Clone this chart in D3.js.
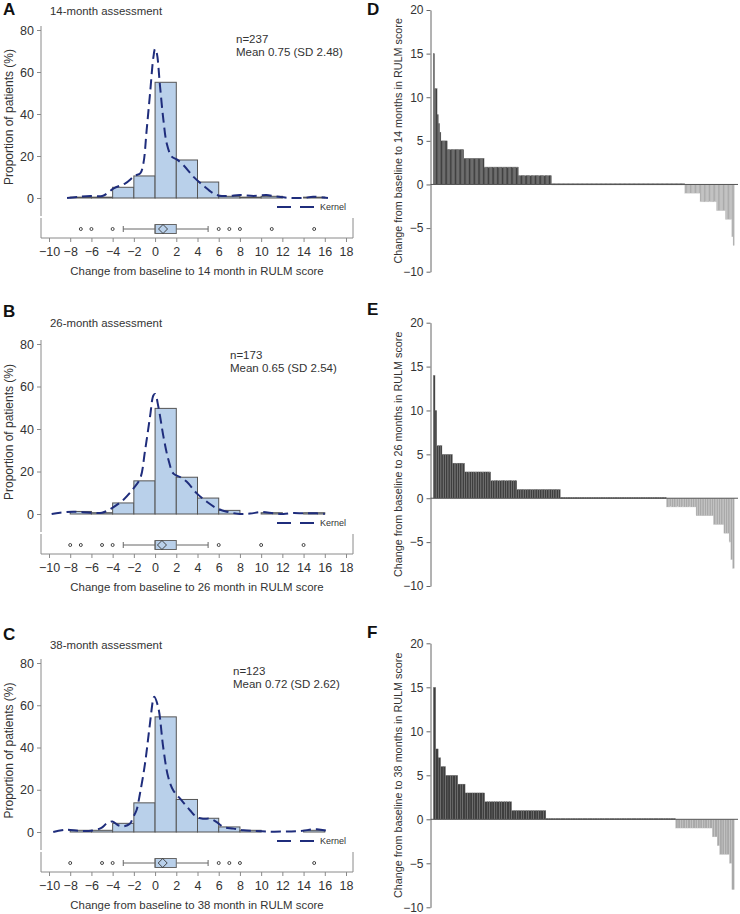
<!DOCTYPE html>
<html>
<head>
<meta charset="utf-8">
<script src="https://cdn.jsdelivr.net/npm/d3@7/dist/d3.min.js"></script>
<style>
  html, body { margin: 0; padding: 0; background: #fff; }
  svg { display: block; font-family: "Liberation Sans", Arial, sans-serif; }
</style>
</head>
<body>
<svg id="chart" width="740" height="914"></svg>
<script>
// ---------------- DATA ----------------
const histBinStarts = [-10, -8, -6, -4, -2, 0, 2, 4, 6, 8, 10, 12, 14, 16];
const histBinWidth = 2;
const xTicks = [-10, -8, -6, -4, -2, 0, 2, 4, 6, 8, 10, 12, 14, 16, 18];
const yTicksHist = [0, 20, 40, 60, 80];
const yTicksWaterfall = [-10, -5, 0, 5, 10, 15, 20];

// Histogram percentages (% of patients per 2-point bin)
const hist14 = [0, 0.4, 0.4, 5.1, 10.5, 55.1, 18.1, 7.6, 0.8, 0.4, 0.8, 0, 0.4, 0];
const hist26 = [0, 1.2, 0.6, 5.2, 15.6, 49.7, 17.3, 7.5, 1.7, 0, 0.6, 0, 0.6, 0];
const hist38 = [0, 0.8, 0.8, 4.1, 13.8, 54.5, 15.4, 6.5, 2.4, 0.8, 0, 0, 0.8, 0];

// Kernel density curves (x = change, y = %)
const kernel14X = [-8.3, -7.2, -6.1, -4.9, -3.9, -2.8, -1.9, -1.4, -1.1, -0.8, -0.47, -0.16, 0, 0.16, 0.47, 0.79, 1.1, 1.57, 2.04, 2.67, 3.6, 4.56, 5.5, 6.1, 7.0, 8.0, 9.3, 10.5, 11.2, 12.1, 13.0, 14.0, 14.9, 15.9, 16.3];
const kernel14Y = [0, 0.6, 1.0, 1.1, 4.6, 7.0, 10.6, 11.7, 16.5, 32, 50, 67, 71, 69, 53, 37, 26, 19.7, 18.4, 15.7, 10.2, 5.9, 2.2, 1.1, 1.0, 1.4, 1.0, 1.4, 0.9, 0.3, 0, 0, 0.6, 0.2, 0];
const kernel26X = [-9.75, -8.96, -7.7, -6.1, -5.0, -4.1, -3.0, -2.04, -1.4, -0.94, -0.47, -0.16, 0, 0.31, 0.79, 1.26, 1.73, 2.36, 2.99, 3.93, 4.87, 5.82, 6.76, 8.0, 8.96, 10.06, 11.16, 12.1, 13.05, 14.0, 15.25, 16.0];
const kernel26Y = [0, 0.6, 1.1, 0.6, 0.6, 2.7, 6.6, 12, 16.8, 30, 46, 55.8, 56.5, 50.5, 36.4, 25.5, 19, 17.4, 15.2, 9.7, 5.8, 2.7, 1.1, 0, 0.2, 0.9, 0.3, 0, 0.5, 0.3, 0.3, 0];
const kernel38X = [-9.6, -8.4, -7.1, -5.8, -5.06, -4.58, -4.02, -3.48, -3.0, -2.38, -2.06, -1.75, -1.43, -0.96, -0.49, -0.17, -0.08, 0.3, 0.77, 1.24, 1.72, 2.5, 3.29, 3.92, 4.55, 5.18, 5.81, 6.44, 7.39, 8.33, 9.28, 10.5, 12.1, 13.7, 15.26, 16.5];
const kernel38Y = [0, 1.1, 0.5, 0.8, 2.0, 3.9, 5.0, 3.2, 2.7, 3.9, 7.1, 10.3, 18, 32, 51, 63, 64, 59, 40, 26, 19.7, 15, 10.3, 7.1, 6.3, 6.3, 4.7, 2.4, 1.6, 0.8, 0.5, 0.2, 0.2, 0.5, 1.3, 0.2];

// Box plot summaries: [lower whisker, Q1, median, Q3, upper whisker], mean, outliers
const box14 = [-3, 0, 0, 2, 5];   const mean14 = 0.75; const outliers14 = [-7, -6, -4, 6, 7, 8, 11, 15];
const box26 = [-3, 0, 0, 2, 5];   const mean26 = 0.65; const outliers26 = [-8, -7, -5, -4, 6, 10, 14];
const box38 = [-3, 0, 0, 2, 5];   const mean38 = 0.72; const outliers38 = [-8, -5, -4, 6, 7, 8, 15];

// Waterfall (sorted individual changes) as value / number-of-patients runs
const wf14Values = [15, 11, 8, 7, 6, 5, 4, 3, 2, 1, 0, -1, -2, -3, -4, -6, -7];
const wf14Counts = [1, 2, 1, 1, 1, 5, 13, 16, 27, 26, 105, 12, 13, 7, 5, 1, 1];
const wf26Values = [14, 10, 6, 5, 4, 3, 2, 1, 0, -1, -2, -3, -4, -5, -7, -8];
const wf26Counts = [1, 1, 3, 6, 7, 15, 15, 25, 61, 17, 10, 6, 3, 1, 1, 1];
const wf38Values = [15, 8, 7, 6, 5, 4, 3, 2, 1, 0, -1, -2, -3, -4, -5, -8];
const wf38Counts = [1, 1, 1, 2, 5, 3, 8, 11, 14, 53, 15, 2, 1, 4, 1, 1];

const panelsLeft = [
  { letter: "A", title: "14-month assessment", n: "n=237", stat: "Mean 0.75 (SD 2.48)",
    hist: hist14, kx: kernel14X, ky: kernel14Y, box: box14, mean: mean14, out: outliers14,
    xTitle: "Change from baseline to 14 month in RULM score",
    letterY: 15, titleY: 15, y0: 198, y80: 30, nX: 236, nY: 43 },
  { letter: "B", title: "26-month assessment", n: "n=173", stat: "Mean 0.65 (SD 2.54)",
    hist: hist26, kx: kernel26X, ky: kernel26Y, box: box26, mean: mean26, out: outliers26,
    xTitle: "Change from baseline to 26 month in RULM score",
    letterY: 317, titleY: 327, y0: 514, y80: 344, nX: 230, nY: 359 },
  { letter: "C", title: "38-month assessment", n: "n=123", stat: "Mean 0.72 (SD 2.62)",
    hist: hist38, kx: kernel38X, ky: kernel38Y, box: box38, mean: mean38, out: outliers38,
    xTitle: "Change from baseline to 38 month in RULM score",
    letterY: 640, titleY: 649, y0: 832, y80: 663, nX: 233, nY: 675 }
];

const panelsRight = [
  { letter: "D", values: wf14Values, counts: wf14Counts, yTop: 10, yBot: 271.7, letterY: 15,
    yTitle: "Change from baseline to 14 months in RULM score" },
  { letter: "E", values: wf26Values, counts: wf26Counts, yTop: 322.7, yBot: 586, letterY: 315,
    yTitle: "Change from baseline to 26 months in RULM score" },
  { letter: "F", values: wf38Values, counts: wf38Counts, yTop: 643.3, yBot: 907.3, letterY: 638,
    yTitle: "Change from baseline to 38 months in RULM score" }
];

// ---------------- DRAW ----------------
const svg = d3.select("#chart");
const axisGray = "#8a8a8a";
const textCol = "#333";
const blueFill = "#b9d0ea";
const kernelCol = "#1f2d7c";
const fmt = d => String(d).replace("-", "\u2212");

const x = d3.scaleLinear().domain([-10, 18]).range([49, 346]);
const axX = 41, boxRight = 353;

panelsLeft.forEach(p => {
  const g = svg.append("g");
  const y = d3.scaleLinear().domain([0, 80]).range([p.y0, p.y80]);

  g.append("text").attr("x", 3).attr("y", p.letterY).attr("font-size", 17).attr("font-weight", "bold")
    .attr("fill", "#111").text(p.letter);
  g.append("text").attr("x", 50).attr("y", p.titleY).attr("font-size", 11.4).attr("fill", textCol).text(p.title);

  // y axis line and ticks
  g.append("line").attr("x1", axX).attr("x2", axX).attr("y1", p.y80 - 4).attr("y2", p.y0 + 18)
    .attr("stroke", axisGray).attr("stroke-width", 1);
  const yAxis = g.append("g").attr("transform", `translate(${axX},0)`)
    .call(d3.axisLeft(y).tickValues(yTicksHist).tickSize(4).tickPadding(3).tickFormat(fmt));
  yAxis.select(".domain").remove();
  yAxis.selectAll("line").attr("stroke", axisGray);
  yAxis.selectAll("text").attr("font-size", 12.5).attr("fill", textCol).attr("font-family", null);

  g.append("text").attr("transform", `translate(13,${(p.y0 + p.y80) / 2 + 3}) rotate(-90)`)
    .attr("text-anchor", "middle").attr("font-size", 12).attr("fill", textCol)
    .text("Proportion of patients (%)");

  // histogram bars
  g.selectAll("rect.bar").data(histBinStarts).join("rect").attr("class", "bar")
    .attr("x", d => x(d)).attr("width", d => x(d + histBinWidth) - x(d))
    .attr("y", (d, i) => y(p.hist[i])).attr("height", (d, i) => p.y0 - y(p.hist[i]))
    .attr("fill", blueFill).attr("stroke", "#555").attr("stroke-width", 1);

  // kernel
  const kpts = p.kx.map((v, i) => [v, p.ky[i]]);
  g.append("path").datum(kpts)
    .attr("d", d3.line().x(d => x(d[0])).y(d => y(d[1])).curve(d3.curveCatmullRom.alpha(0.5)))
    .attr("fill", "none").attr("stroke", kernelCol).attr("stroke-width", 2).attr("stroke-dasharray", "10,5");

  // legend
  g.append("line").attr("x1", 277).attr("x2", 315).attr("y1", p.y0 + 9).attr("y2", p.y0 + 9)
    .attr("stroke", kernelCol).attr("stroke-width", 2).attr("stroke-dasharray", "14,9");
  g.append("text").attr("x", 320).attr("y", p.y0 + 12).attr("font-size", 9).attr("fill", textCol).text("Kernel");

  g.append("text").attr("x", p.nX).attr("y", p.nY).attr("font-size", 11.5).attr("fill", textCol).text(p.n);
  g.append("text").attr("x", p.nX).attr("y", p.nY + 13).attr("font-size", 11.5).attr("fill", textCol).text(p.stat);

  // box panel frame
  const bTop = p.y0 + 20, bBot = p.y0 + 40;
  g.append("line").attr("x1", axX).attr("x2", axX).attr("y1", bTop).attr("y2", bBot).attr("stroke", axisGray);
  g.append("line").attr("x1", boxRight).attr("x2", boxRight).attr("y1", bTop).attr("y2", bBot).attr("stroke", axisGray);
  g.append("line").attr("x1", axX).attr("x2", boxRight).attr("y1", bBot).attr("y2", bBot).attr("stroke", axisGray);

  const xAxis = g.append("g").attr("transform", `translate(0,${bBot})`)
    .call(d3.axisBottom(x).tickValues(xTicks).tickSize(4).tickPadding(5).tickFormat(fmt));
  xAxis.select(".domain").remove();
  xAxis.selectAll("line").attr("stroke", axisGray);
  xAxis.selectAll("text").attr("font-size", 12.5).attr("fill", textCol).attr("font-family", null);

  g.append("text").attr("x", (axX + boxRight) / 2).attr("y", p.y0 + 76.5).attr("text-anchor", "middle")
    .attr("font-size", 11.4).attr("fill", textCol).text(p.xTitle);

  // box plot
  const yc = p.y0 + 31;
  const [lo, q1, med, q3, hi] = p.box;
  const bg = g.append("g");
  bg.append("line").attr("x1", x(lo)).attr("x2", x(q1)).attr("y1", yc).attr("y2", yc).attr("stroke", "#666");
  bg.append("line").attr("x1", x(q3)).attr("x2", x(hi)).attr("y1", yc).attr("y2", yc).attr("stroke", "#666");
  [lo, hi].forEach(v => bg.append("line").attr("x1", x(v)).attr("x2", x(v)).attr("y1", yc - 3).attr("y2", yc + 3).attr("stroke", "#666"));
  bg.append("rect").attr("x", x(q1)).attr("width", x(q3) - x(q1)).attr("y", yc - 4.5).attr("height", 9)
    .attr("fill", blueFill).attr("stroke", "#666");
  bg.append("line").attr("x1", x(med)).attr("x2", x(med)).attr("y1", yc - 4.5).attr("y2", yc + 4.5).attr("stroke", "#666");
  const mx = x(p.mean);
  bg.append("path").attr("d", `M${mx - 4.5},${yc} L${mx},${yc - 4.5} L${mx + 4.5},${yc} L${mx},${yc + 4.5} Z`)
    .attr("fill", "none").attr("stroke", "#333").attr("stroke-width", 0.9);
  bg.selectAll("circle").data(p.out).join("circle").attr("cx", d => x(d)).attr("cy", yc).attr("r", 1.5)
    .attr("fill", "#fff").attr("stroke", "#333").attr("stroke-width", 0.9);
});

// waterfall panels
const wfLeft = 430.5, wfBarStart = 433.3, wfBarEnd = 734.3, wfLineEnd = 738;
panelsRight.forEach(p => {
  const g = svg.append("g");
  const y = d3.scaleLinear().domain([-10, 20]).range([p.yBot, p.yTop]);
  const vals = [];
  p.values.forEach((v, i) => { for (let k = 0; k < p.counts[i]; k++) vals.push(v); });
  const xb = d3.scaleBand().domain(d3.range(vals.length)).range([wfBarStart, wfBarEnd]).padding(0);

  g.append("text").attr("x", 367).attr("y", p.letterY).attr("font-size", 17).attr("font-weight", "bold")
    .attr("fill", "#111").text(p.letter);

  const yAxis = g.append("g").attr("transform", `translate(${wfLeft},0)`)
    .call(d3.axisLeft(y).tickValues(yTicksWaterfall).tickSize(4).tickPadding(3).tickFormat(fmt).tickSizeOuter(0));
  yAxis.select(".domain").attr("stroke", "#666");
  yAxis.selectAll(".tick line").attr("stroke", "#666");
  yAxis.selectAll("text").attr("font-size", 12).attr("fill", textCol).attr("font-family", null);

  g.append("text").attr("transform", `translate(402,${(p.yTop + p.yBot) / 2}) rotate(-90)`)
    .attr("text-anchor", "middle").attr("font-size", 10.8).attr("fill", textCol).text(p.yTitle);

  const y0 = y(0);
  g.selectAll("rect.wf").data(vals).join("rect").attr("class", "wf")
    .attr("x", (d, i) => xb(i)).attr("width", xb.bandwidth())
    .attr("y", d => d > 0 ? y(d) : (d < 0 ? y0 : y0 - 1))
    .attr("height", d => d === 0 ? 1.6 : Math.abs(y(d) - y0))
    .attr("fill", d => d > 0 ? "#3e3e3e" : (d < 0 ? "#a9a9a9" : "#555"))
    .attr("stroke", d => d > 0 ? "#7d7d7d" : (d < 0 ? "#d0d0d0" : "none"))
    .attr("stroke-width", 0.3);

  g.append("line").attr("x1", wfLeft).attr("x2", wfLineEnd).attr("y1", y0).attr("y2", y0)
    .attr("stroke", "#555").attr("stroke-width", 1);
});
</script>
</body>
</html>
